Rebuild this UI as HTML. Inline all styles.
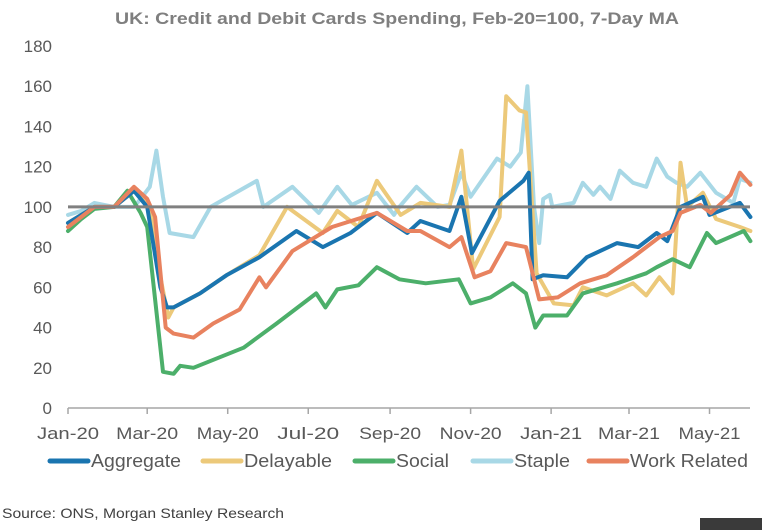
<!DOCTYPE html>
<html><head><meta charset="utf-8">
<style>
html,body{margin:0;padding:0;background:#fff;}
svg{display:block;font-family:"Liberation Sans Narrow","Liberation Sans",sans-serif;}
</style></head>
<body>
<svg id="chart" width="762" height="530" viewBox="0 0 762 530" xmlns="http://www.w3.org/2000/svg">
<text x="397" y="24" text-anchor="middle" font-size="17" font-weight="bold" fill="#7f7f7f" textLength="564" lengthAdjust="spacingAndGlyphs">UK: Credit and Debit Cards Spending, Feb-20=100, 7-Day MA</text>
<g id="yaxis"></g>
<g id="xaxis"></g>
<g id="series"></g>
<g id="legend"></g>
<text x="2" y="518" font-size="14" fill="#404040" textLength="282" lengthAdjust="spacingAndGlyphs">Source: ONS, Morgan Stanley Research</text>
<rect x="700" y="518" width="62" height="12" fill="#3a3a3a"/>
</svg>
<script>
const yTicks = [0,20,40,60,80,100,120,140,160,180];
const xLabels = ["Jan-20","Mar-20","May-20","Jul-20","Sep-20","Nov-20","Jan-21","Mar-21","May-21"];
const xLabelDays = [0,60,121,182,244,305,366,425,486];
const seriesNames = ["Aggregate","Delayable","Social","Staple","Work Related"];
const seriesColors = ["#1a75b0","#ecc97a","#4caf6a","#a8d8e6","#e8825f"];
const aggDays = [0,10,20,35,50,60,70,75,80,100,120,145,173,193,214,234,257,267,289,298,306,327,345,349,352,360,378,393,416,432,446,454,464,481,486,509,517];
const aggVals = [92,96,100,100,108,100,60,50,50,57,66,75,88,80,87,97,87,93,88,105,77,103,113,117,64,66,65,75,82,80,87,83,100,105,96,102,95];
const delDays = [0,10,20,35,50,62,70,76,80,100,120,145,166,193,204,220,234,252,267,289,298,307,327,332,342,347,355,368,383,390,408,428,438,448,458,464,469,481,491,509,517];
const delVals = [92,96,100,100,108,100,65,45,50,57,66,76,100,87,98,90,113,96,102,100,128,69,95,155,148,147,67,52,51,60,56,62,56,65,57,122,100,107,94,90,88];
const socDays = [0,10,20,35,45,55,60,72,80,85,95,133,158,188,195,204,220,234,251,271,296,305,320,337,347,354,360,378,390,416,438,446,458,471,484,491,512,517];
const socVals = [88,94,99,100,108,97,90,18,17,21,20,30,42,57,50,59,61,70,64,62,64,52,55,62,57,40,46,46,57,62,67,70,74,70,87,82,88,83];
const staDays = [0,10,20,35,50,55,62,67,72,77,95,108,143,148,170,190,204,215,234,247,251,264,280,289,298,305,325,335,343,348,353,357,360,365,367,383,390,398,403,411,418,428,438,446,454,461,469,479,491,504,509,517];
const staVals = [96,98,102,100,100,104,110,128,105,87,85,100,113,100,110,97,110,101,107,96,100,110,100,101,117,105,124,120,127,160,100,82,104,106,100,102,112,106,110,104,118,112,110,124,115,112,110,117,107,102,114,112];
const wrkDays = [0,10,20,35,50,60,66,74,80,95,110,130,145,150,170,200,234,257,267,289,298,308,320,332,347,357,371,388,408,428,448,458,464,479,487,502,509,517];
const wrkVals = [90,95,100,100,110,104,95,40,37,35,42,49,65,60,78,90,97,88,88,80,85,65,68,82,80,54,55,62,66,75,85,88,97,101,97,106,117,111];

const NS="http://www.w3.org/2000/svg";
const X0=68, PXD=1.32, Y0=408, PXV=2.011;
function xs(d){return X0+d*PXD;}
function ys(v){return Y0-v*PXV;}
function mk(tag,attrs,parent){const e=document.createElementNS(NS,tag);for(const k in attrs)e.setAttribute(k,attrs[k]);parent.appendChild(e);return e;}

const yaxis=document.getElementById('yaxis');
yTicks.forEach(t=>{
  const tx=mk('text',{x:52,y:ys(t)+6,'text-anchor':'end','font-size':'17',fill:'#595959'},yaxis);
  
  
  tx.textContent=t;
});
const xaxis=document.getElementById('xaxis');
const axl=mk('line',{x1:X0,x2:750,y1:Y0,y2:Y0,stroke:'#a6a6a6','stroke-width':'1.5'},xaxis);


xLabels.forEach((l,i)=>{
  const x=xs(xLabelDays[i]);
  const tk=mk('line',{x1:x,x2:x,y1:Y0,y2:Y0+6,stroke:'#a6a6a6','stroke-width':'1.5'},xaxis);
  
  
  const tx=mk('text',{x:x,y:439,'text-anchor':'middle','font-size':'17',fill:'#595959',textLength:'62',lengthAdjust:'spacingAndGlyphs'},xaxis);
  
  
  tx.textContent=l;
});

const sg=document.getElementById('series');
const allDays=[aggDays,delDays,socDays,staDays,wrkDays];
const allVals=[aggVals,delVals,socVals,staVals,wrkVals];
const order=[3,1,2,0,4];
order.forEach(i=>{
  const d=allDays[i].map((dd,j)=>(j?'L':'M')+xs(dd).toFixed(1)+','+ys(allVals[i][j]).toFixed(1)).join('');
  const p=mk('path',{d:d,fill:'none',stroke:seriesColors[i],'stroke-width':'4','stroke-linejoin':'round','stroke-linecap':'round'},sg);
  
  
});
const ref=mk('line',{x1:X0,x2:750,y1:ys(100),y2:ys(100),stroke:'#808080','stroke-width':'3'},sg);



const lg=document.getElementById('legend');
const lx=[48,201,353,471,587];
const tw=[90,88,53,56,118];
seriesNames.forEach((n,i)=>{
  const ln=mk('line',{x1:lx[i]+2,x2:lx[i]+40,y1:461,y2:461,stroke:seriesColors[i],'stroke-width':'5','stroke-linecap':'round'},lg);
  
  
  const tx=mk('text',{x:lx[i]+43,y:467,'font-size':'18',fill:'#595959',textLength:tw[i],lengthAdjust:'spacingAndGlyphs'},lg);
  
  
  tx.textContent=n;
});
</script>
</body></html>
